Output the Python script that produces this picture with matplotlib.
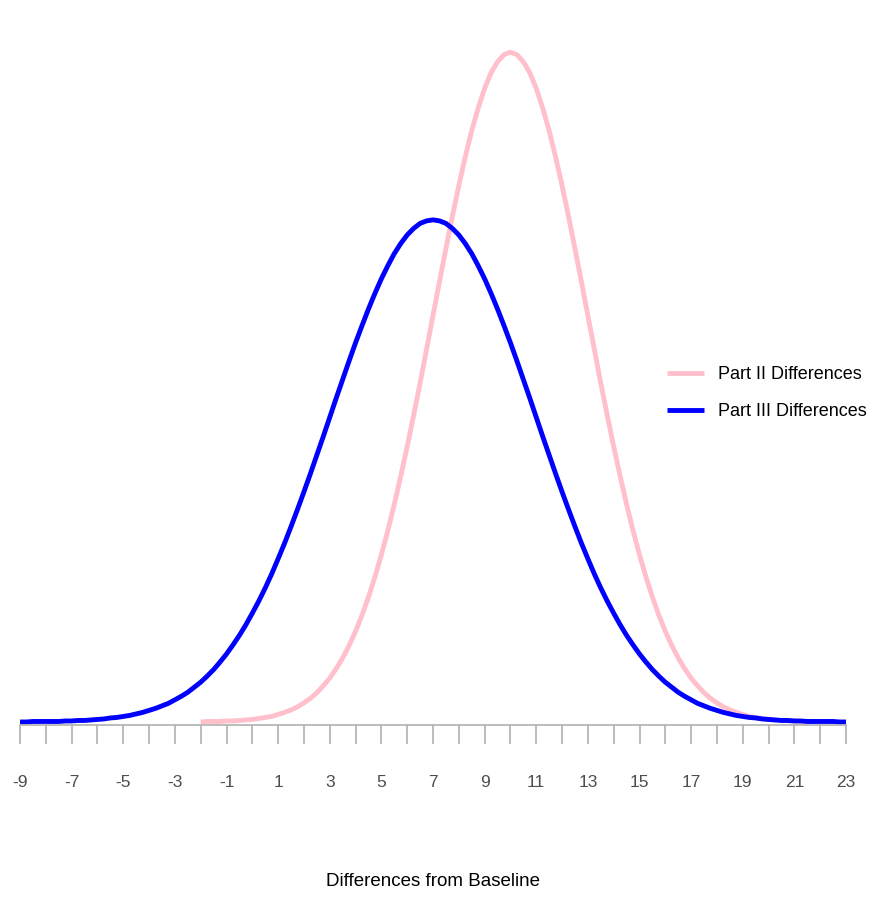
import numpy as np
import matplotlib.pyplot as plt

# Density heights, every 0.25 on the x axis.
# Both curves are symmetric about their peak, so only the left half is typed.
part2_x = np.arange(-2, 22.25, 0.25)
part2_left = [0.0000, 0.0001, 0.0001, 0.0001, 0.0002, 0.0002, 0.0003, 0.0004,
              0.0005, 0.0007, 0.0009, 0.0011, 0.0015, 0.0019, 0.0024, 0.0030,
              0.0038, 0.0047, 0.0058, 0.0072, 0.0087, 0.0106, 0.0127, 0.0152,
              0.0180, 0.0212, 0.0248, 0.0288, 0.0332, 0.0380, 0.0432, 0.0488,
              0.0547, 0.0609, 0.0673, 0.0740, 0.0807, 0.0874, 0.0940, 0.1004,
              0.1065, 0.1122, 0.1174, 0.1219, 0.1258, 0.1289, 0.1311, 0.1325]
part2_peak = 0.1330
part2_y = part2_left + [part2_peak] + part2_left[::-1]

part3_x = np.arange(-9, 23.25, 0.25)
part3_left = [0.0000, 0.0000, 0.0001, 0.0001, 0.0001, 0.0001, 0.0001, 0.0002,
              0.0002, 0.0003, 0.0003, 0.0004, 0.0005, 0.0006, 0.0008, 0.0009,
              0.0011, 0.0013, 0.0016, 0.0019, 0.0023, 0.0027, 0.0032, 0.0037,
              0.0044, 0.0051, 0.0059, 0.0069, 0.0079, 0.0091, 0.0104, 0.0119,
              0.0135, 0.0153, 0.0172, 0.0193, 0.0216, 0.0240, 0.0266, 0.0294,
              0.0324, 0.0355, 0.0388, 0.0422, 0.0457, 0.0493, 0.0530, 0.0567,
              0.0605, 0.0643, 0.0680, 0.0717, 0.0753, 0.0787, 0.0820, 0.0851,
              0.0880, 0.0906, 0.0930, 0.0950, 0.0967, 0.0980, 0.0990, 0.0995]
part3_peak = 0.0997
part3_y = part3_left + [part3_peak] + part3_left[::-1]

tick_pos = list(range(-9, 24))
tick_lab = [str(t) if t % 2 != 0 else "" for t in tick_pos]

labels = ["Part II Differences", "Part III Differences"]
colors = ["pink", "blue"]

plt.rcParams['font.family'] = ['Liberation Sans', 'DejaVu Sans']

fig = plt.figure(figsize=(8.75, 8.97), dpi=100)
ax = fig.add_axes([20 / 875, 1 - 725 / 897, 826 / 875, 695 / 897])

ax.plot(part2_x, part2_y, color=colors[0], lw=3.5, label=labels[0], solid_capstyle="butt")
ax.plot(part3_x, part3_y, color=colors[1], lw=3.5, label=labels[1], solid_capstyle="butt")

ax.set_xlim(-9, 23)
ax.set_ylim(-0.0006, 0.1374)

for s in ["top", "right", "left"]:
    ax.spines[s].set_visible(False)
ax.spines["bottom"].set_color("#b0b0b0")
ax.spines["bottom"].set_linewidth(1.2)
ax.set_yticks([])

ax.set_xticks(tick_pos)
ax.set_xticklabels(tick_lab)
ax.tick_params(axis="x", length=13.7, width=1.2, color="#b0b0b0", pad=22.5,
               labelsize=12.5, labelcolor="#4d4d4d")
ax.set_xlabel("Differences from Baseline", fontsize=13.5)
ax.xaxis.set_label_coords(0.5, (725 - 873) / 695)

ax.legend(loc="center left", bbox_to_anchor=(651 / 875, 1 - 393 / 897),
          bbox_transform=fig.transFigure, frameon=False, fontsize=13,
          handlelength=2.05, handletextpad=0.75, labelspacing=1.1)

fig.savefig("out.png", dpi=100)
